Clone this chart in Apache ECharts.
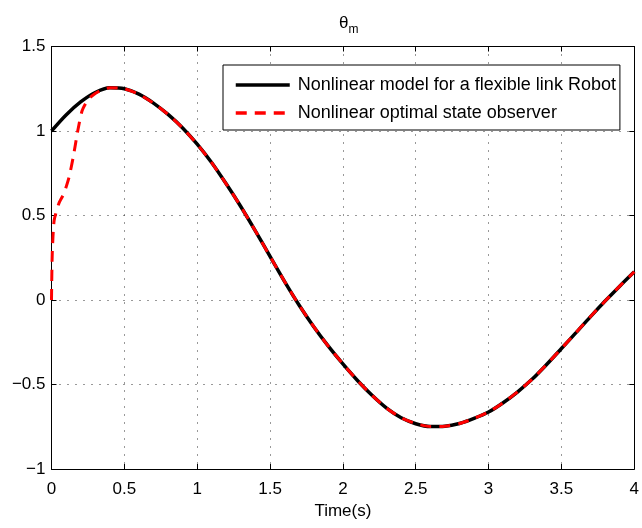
<!DOCTYPE html>
<html><head><meta charset="utf-8">
<script src="https://cdn.jsdelivr.net/npm/echarts@6/dist/echarts.min.js"></script>
<style>html,body{margin:0;padding:0;background:#fff}#c{width:642px;height:528px}</style>
</head><body><div id="c"></div>
<script>
// ---- data ----
const modelTime  = [0, 0.1, 0.2, 0.3, 0.4, 0.5, 0.6, 0.7, 0.8, 0.9, 1.0, 1.1, 1.2, 1.3, 1.4, 1.5, 1.6, 1.7, 1.8, 1.9, 2.0,
                    2.1, 2.2, 2.3, 2.4, 2.5, 2.6, 2.7, 2.8, 2.9, 3.0, 3.1, 3.2, 3.3, 3.4, 3.5, 3.6, 3.7, 3.8, 3.9, 4.0];
const modelTheta = [1.000, 1.095, 1.172, 1.228, 1.256, 1.250, 1.218, 1.165, 1.098, 1.018, 0.922, 0.812, 0.686, 0.552, 0.408,
                    0.258, 0.109, -0.031, -0.158, -0.273, -0.378, -0.476, -0.564, -0.640, -0.697, -0.732, -0.749, -0.747,
                    -0.731, -0.701, -0.663, -0.608, -0.543, -0.468, -0.380, -0.287, -0.193, -0.098, -0.006, 0.082, 0.167];
const observerTime  = [0, 0.005, 0.018, 0.05, 0.085, 0.12, 0.15, 0.18, 0.21, 0.25, 0.3, 0.35, 0.4, 0.5, 0.6, 0.7, 0.8, 0.9,
                       1.0, 1.1, 1.2, 1.3, 1.4, 1.5, 1.6, 1.7, 1.8, 1.9, 2.0, 2.1, 2.2, 2.3, 2.4, 2.5, 2.6, 2.7, 2.8, 2.9,
                       3.0, 3.1, 3.2, 3.3, 3.4, 3.5, 3.6, 3.7, 3.8, 3.9, 4.0];
const observerTheta = [0.000, 0.270, 0.470, 0.570, 0.630, 0.725, 0.850, 1.000, 1.120, 1.185, 1.222, 1.245, 1.256, 1.250,
                       1.218, 1.165, 1.098, 1.018, 0.922, 0.812, 0.686, 0.552, 0.408, 0.258, 0.109, -0.031, -0.158, -0.273,
                       -0.378, -0.476, -0.564, -0.640, -0.697, -0.732, -0.749, -0.747, -0.731, -0.701, -0.663, -0.608,
                       -0.543, -0.468, -0.380, -0.287, -0.193, -0.098, -0.006, 0.082, 0.167];
const xTickLabels = ['0', '0.5', '1', '1.5', '2', '2.5', '3', '3.5', '4'];
const yTickLabels = ['\u22121', '\u22120.5', '0', '0.5', '1', '1.5'];
const seriesNames = ['Nonlinear model for a flexible link Robot', 'Nonlinear optimal state observer'];
const titleMain = '\u03B8';
const titleSub = 'm';
const xName = 'Time(s)';

// ---- chart ----
const FONT = '"Liberation Sans", Arial, Helvetica, sans-serif';
const xMin = 0, xMax = 4, xStep = 0.5;
const yMin = -1, yMax = 1.5, yStep = 0.5;
const zip = (a, b) => a.map((t, i) => [t, b[i]]);

const gridDots = { show: true, lineStyle: { color: '#333', width: 1, type: [1, 7] } };
function baseX(pos, main) {
  return {
    type: 'value', position: pos, min: xMin, max: xMax, interval: xStep,
    axisLine: { show: true, onZero: false, lineStyle: { color: '#000', width: 1 } },
    axisTick: { show: true, inside: true, length: 5, lineStyle: { color: '#000' } },
    axisLabel: main ? { show: true, margin: 12, color: '#000', fontSize: 17, fontFamily: FONT,
      formatter: v => xTickLabels[Math.round((v - xMin) / xStep)] } : { show: false },
    splitLine: main ? gridDots : { show: false },
    name: main ? xName : '', nameLocation: 'middle', nameGap: 33,
    nameTextStyle: { color: '#000', fontSize: 17, fontFamily: FONT }
  };
}
function baseY(pos, main) {
  return {
    type: 'value', position: pos, min: yMin, max: yMax, interval: yStep,
    axisLine: { show: true, onZero: false, lineStyle: { color: '#000', width: 1 } },
    axisTick: { show: true, inside: true, length: 5, lineStyle: { color: '#000' } },
    axisLabel: main ? { show: true, margin: 6, color: '#000', fontSize: 17, fontFamily: FONT,
      formatter: v => yTickLabels[Math.round((v - yMin) / yStep)] } : { show: false },
    splitLine: main ? gridDots : { show: false }
  };
}

const chart = echarts.init(document.getElementById('c'), null, { renderer: 'canvas' });
chart.setOption({
  animation: false,
  backgroundColor: '#fff',
  title: {
    text: '{a|' + titleMain + '}{b|' + titleSub + '}',
    left: 334, top: 10,
    textStyle: {
      fontWeight: 'normal',
      rich: {
        a: { fontSize: 17, fontFamily: FONT, fontWeight: 'normal', color: '#000', verticalAlign: 'top' },
        b: { fontSize: 12, fontFamily: FONT, fontWeight: 'normal', color: '#000', verticalAlign: 'top', padding: [9, 0, 0, 0] }
      }
    }
  },
  grid: { left: 51.5, right: 5.3, top: 46.5, bottom: 59, containLabel: false },
  legend: {
    orient: 'vertical', left: 223, top: 65,
    padding: [11, 4, 8, 11], itemGap: 10, itemWidth: 54, itemHeight: 14,
    backgroundColor: '#fff', borderColor: '#000', borderWidth: 1, borderRadius: 0,
    itemStyle: { opacity: 0 },
    lineStyle: { width: 3.5 },
    textStyle: { color: '#000', fontSize: 18, fontFamily: FONT, padding: [0, 0, 0, 3] },
    data: seriesNames
  },
  xAxis: [baseX('bottom', true), baseX('top', false)],
  yAxis: [baseY('left', true), baseY('right', false)],
  series: [
    {
      name: seriesNames[0], type: 'line', data: zip(modelTime, modelTheta),
      showSymbol: false, symbol: 'none', smooth: 0.3, z: 2,
      lineStyle: { color: '#000', width: 3.5, type: 'solid' }, itemStyle: { color: '#000' }
    },
    {
      name: seriesNames[1], type: 'line', data: zip(observerTime, observerTheta),
      showSymbol: false, symbol: 'none', smooth: 0.2, z: 3,
      lineStyle: { color: '#ff0000', width: 3, type: [11, 8] }, itemStyle: { color: '#ff0000' }
    }
  ]
});
</script></body></html>
